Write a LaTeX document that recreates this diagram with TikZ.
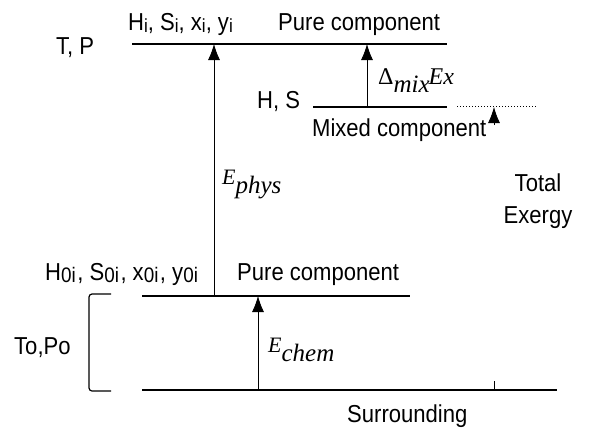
\documentclass[tikz,border=0pt]{standalone}
\usepackage{fontspec}
\setsansfont{Liberation Sans}[FakeStretch=0.9]
\newfontfamily\tms{Liberation Serif}
\usetikzlibrary{arrows.meta}
\newcommand\sub[1]{\raisebox{-0.1em}{\fontsize{19}{19}\selectfont #1}}
\newcommand\subz[1]{\raisebox{-0.1em}{\fontsize{21}{21}\selectfont #1}\kern1.5pt}
\newcommand\ital[1]{{\tms\itshape #1}}
\tikzset{
  level/.style={line width=2.8pt},
  arr/.style={line width=0.8pt,-{Latex[length=16pt,width=12pt]}},
  lbl/.style={inner sep=0pt,anchor=base west,font=\sffamily\fontsize{24.5}{32}\selectfont},
  mlbl/.style={inner sep=0pt,anchor=base west,font=\fontsize{22}{22}\selectfont}
}
\begin{document}
\begin{tikzpicture}[x=1pt,y=-1pt]
  \useasboundingbox (0,0) rectangle (590,429);
  % energy levels
  \def \Levels{
    top/132/447/44,
    pure/142/410/296,
    surr/142/557/390}
  \foreach \id / \xa / \xb / \y in \Levels{
    \coordinate (\id l) at (\xa,\y);
    \coordinate (\id r) at (\xb,\y);
    \path[draw,level] (\id l) -- (\id r);
  }
  % mixed level
  \coordinate (mixl) at (313,107);
  \coordinate (mixr) at (447,107);
  \coordinate (dotl) at (457,106);
  \coordinate (dotr) at (537,106);
  \path[draw,line width=1.4pt] (mixl) -- (mixr);
  \path[draw,dotted,line width=1pt] (dotl) -- (dotr);
  % arrows
  \coordinate (physb) at (214,296);
  \coordinate (physt) at (214,44);
  \coordinate (deltab) at (367,107);
  \coordinate (deltat) at (367,44);
  \coordinate (chemb) at (258,390);
  \coordinate (chemt) at (258,296);
  \coordinate (totb) at (494,125);
  \coordinate (tott) at (494,107);
  \coordinate (tickb) at (494,390);
  \coordinate (tickt) at (494,381);
  \path[draw,arr] (physb) -- (physt);
  \path[draw,arr] (deltab) -- (deltat);
  \path[draw,arr] (chemb) -- (chemt);
  \path[draw,arr] (totb) -- (tott);
  \path[draw,line width=0.6pt] (tickb) -- (tickt);
  % bracket
  \draw[line width=1.2pt,rounded corners=3pt] (111,294) -- (89,294) -- (89,391) -- (111,391);
  % labels
  \node[lbl] (hi) at (128,30) {H\sub{i}, S\sub{i}, x\sub{i}, y\sub{i}};
  \node[lbl] (pure1) at (278,30) {Pure component};
  \node[lbl] (tp) at (56,54) {T, P};
  \node[lbl] (hs) at (257,108) {H, S};
  \node[lbl] (mixed) at (312,136) {Mixed component};
  \node[lbl] (h0i) at (45,280) {H\subz{0i}, S\subz{0i}, x\subz{0i}, y\subz{0i}};
  \node[lbl] (pure0) at (237,280) {Pure component};
  \node[lbl] (topo) at (14,354) {To,Po};
  \node[lbl] (surr) at (347,422) {Surrounding};
  \node[lbl,anchor=north,align=center] (tot) at (538,174) {Total\\Exergy};
  \node[mlbl] (ephys) at (222,184) {\ital{E\raisebox{-0.45em}{\fontsize{25}{25}\selectfont phys}}};
  \node[mlbl] (echem) at (268,352) {\ital{E\raisebox{-0.45em}{\fontsize{25}{25}\selectfont chem}}};
  \node[mlbl] (dmix) at (378,84) {{\tms\fontsize{24}{24}\selectfont Δ}\ital{\raisebox{-0.4em}{\fontsize{25}{25}\selectfont mix}\kern-0.05em\fontsize{24}{24}\selectfont Ex}};
\end{tikzpicture}
\end{document}
